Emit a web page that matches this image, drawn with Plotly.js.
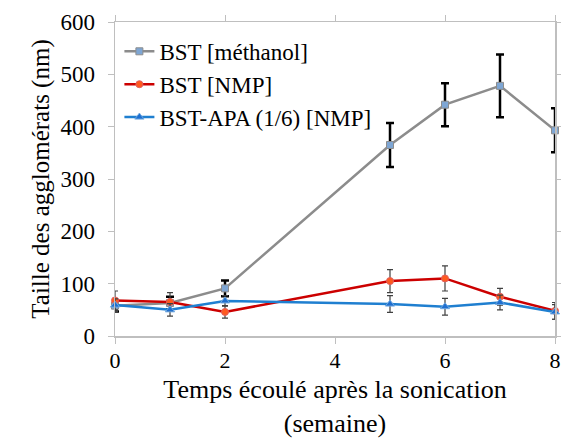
<!DOCTYPE html>
<html>
<head>
<meta charset="utf-8">
<script src="https://cdn.plot.ly/plotly-3.0.1.min.js"></script>
<style>html,body{margin:0;padding:0;background:#fff}#chart{width:561px;height:438px}</style>
</head>
<body>
<div id="chart"></div>
<script>
const weeks = [0, 1, 2, 5, 6, 7, 8];
const bstMethanol = [58, 63, 91, 365, 442, 478, 393];
const bstMethanolErr = [11, 12, 15, 42, 41, 60, 42];
const bstNMP = [68, 65, 46, 105, 110, 75, 48];
const bstNMPErr = [18, 18, 12, 22, 24, 16, 16];
const bstAPA = [59, 50, 67, 61, 56, 64, 46];
const bstAPAErr = [12, 12, 10, 16, 16, 14, 14];
const seriesNames = ["BST [méthanol]", "BST [NMP]", "BST-APA (1/6) [NMP]"];

const serif = "'Liberation Serif', 'Times New Roman', Times, serif";

const traces = [
  {
    x: weeks, y: bstMethanol, name: seriesNames[0], type: "scatter", mode: "lines+markers",
    line: {color: "#8c8c8c", width: 2.5},
    marker: {symbol: "square", size: 7, color: "#7ea6d4", line: {color: "#8c8c8c", width: 1}},
    error_y: {type: "data", array: bstMethanolErr, visible: true, color: "#000000", thickness: 2.5, width: 4},
    cliponaxis: false
  },
  {
    x: weeks, y: bstNMP, name: seriesNames[1], type: "scatter", mode: "lines+markers",
    line: {color: "#cc0000", width: 2.5},
    marker: {symbol: "circle", size: 7, color: "#ff5a1f", line: {color: "#e06060", width: 1}},
    error_y: {type: "data", array: bstNMPErr, visible: true, color: "#404040", thickness: 1.2, width: 3},
    cliponaxis: false
  },
  {
    x: weeks, y: bstAPA, name: seriesNames[2], type: "scatter", mode: "lines+markers",
    line: {color: "#1f7fd0", width: 2.5},
    marker: {symbol: "triangle-up", size: 8, color: "#1f6fd0", line: {color: "#6fa8e0", width: 1}},
    error_y: {type: "data", array: bstAPAErr, visible: true, color: "#404040", thickness: 1.2, width: 3},
    cliponaxis: false
  }
];

const layout = {
  width: 561, height: 438,
  margin: {l: 115, r: 6, t: 22, b: 102},
  paper_bgcolor: "#ffffff", plot_bgcolor: "#ffffff",
  font: {family: serif, color: "#000000"},
  showlegend: true,
  legend: {
    x: 0.01, y: 0.975, xanchor: "left", yanchor: "top",
    font: {family: serif, size: 23, color: "#000000"},
    bgcolor: "rgba(255,255,255,0)", tracegroupgap: 0, itemwidth: 30
  },
  xaxis: {
    range: [0, 8], tickvals: [0, 2, 4, 6, 8], ticktext: ["0", "2", "4", "6", "8"],
    showgrid: false, zeroline: false,
    showline: true, linecolor: "#bfbfbf", linewidth: 1.5, mirror: "ticks",
    ticks: "outside", ticklen: 6, tickcolor: "#bfbfbf", ticklabelstandoff: -2,
    tickfont: {family: serif, size: 22, color: "#000000"},
    title: {text: "Temps écoulé après la sonication<br>(semaine)", font: {family: serif, size: 26, color: "#000000"}, standoff: 9}
  },
  yaxis: {
    range: [0, 600], tickvals: [0, 100, 200, 300, 400, 500, 600],
    showgrid: false, zeroline: false,
    showline: true, linecolor: "#bfbfbf", linewidth: 1.5, mirror: "ticks",
    ticks: "outside", ticklen: 6, tickcolor: "#bfbfbf", ticklabelstandoff: 8,
    tickfont: {family: serif, size: 23, color: "#000000"},
    title: {text: "Taille des agglomérats (nm)", font: {family: serif, size: 25, color: "#000000"}, standoff: 3}
  }
};

Plotly.newPlot("chart", traces, layout, {displayModeBar: false, staticPlot: true});
</script>
</body>
</html>
